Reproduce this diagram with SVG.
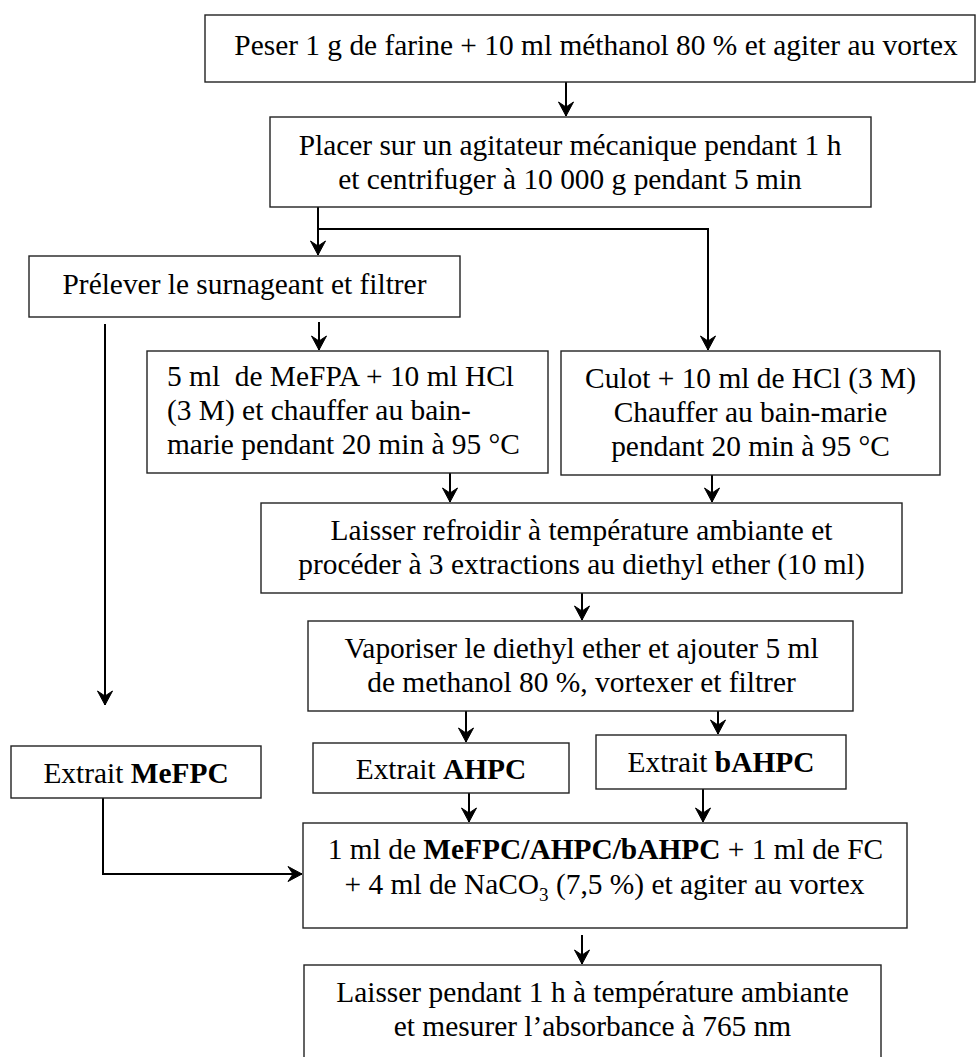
<svg xmlns="http://www.w3.org/2000/svg" width="976" height="1057" viewBox="0 0 976 1057">
<style>
.box{fill:#fff;stroke:#222;stroke-width:1.4}
.t{font-family:"Liberation Serif","Times New Roman",serif;font-size:29.4px;fill:#000}
.c{text-anchor:middle}
.b{font-weight:bold}
.con{fill:none;stroke:#000;stroke-width:2}
</style>
<defs>
<marker id="ah" markerUnits="userSpaceOnUse" viewBox="-16 -10 18 20" markerWidth="18" markerHeight="20" refX="0" refY="0" orient="auto">
<path d="M0,0 L-14,-7.5 L-9,0 L-14,7.5 Z" fill="#000" stroke="#000" stroke-width="1" stroke-linejoin="miter"/>
</marker>
</defs>
<rect width="976" height="1057" fill="#fff"/>
<g id="connectors">
<line class="con" x1="566" y1="82" x2="566" y2="116" marker-end="url(#ah)"/>
<line class="con" x1="318" y1="203" x2="318" y2="255" marker-end="url(#ah)"/>
<polyline class="con" points="318,229 708,229 708,350" marker-end="url(#ah)"/>
<line class="con" x1="319" y1="322" x2="319" y2="350" marker-end="url(#ah)"/>
<line class="con" x1="105" y1="324" x2="105" y2="705" marker-end="url(#ah)"/>
<line class="con" x1="450" y1="473" x2="450" y2="502" marker-end="url(#ah)"/>
<line class="con" x1="712" y1="475" x2="712" y2="502" marker-end="url(#ah)"/>
<line class="con" x1="582" y1="593" x2="582" y2="620" marker-end="url(#ah)"/>
<line class="con" x1="466" y1="711" x2="466" y2="742" marker-end="url(#ah)"/>
<line class="con" x1="718" y1="711" x2="718" y2="734" marker-end="url(#ah)"/>
<line class="con" x1="469" y1="793" x2="469" y2="822" marker-end="url(#ah)"/>
<line class="con" x1="703" y1="789" x2="703" y2="822" marker-end="url(#ah)"/>
<polyline class="con" points="103,798 103,874 302,874" marker-end="url(#ah)"/>
<line class="con" x1="582" y1="935" x2="582" y2="964" marker-end="url(#ah)"/>
</g>
<g id="n1">
<rect class="box" x="205" y="15" width="770" height="67"/>
<text class="t c" x="596" y="55">Peser 1 g de farine + 10 ml méthanol 80 % et agiter au vortex</text>
</g>
<g id="n2">
<rect class="box" x="270" y="117" width="601" height="90"/>
<text class="t c" x="570" y="155">Placer sur un agitateur mécanique pendant 1 h</text>
<text class="t c" x="570" y="189">et centrifuger à 10 000 g pendant 5 min</text>
</g>
<g id="n3">
<rect class="box" x="29" y="256" width="431" height="61"/>
<text class="t c" x="244.5" y="294">Prélever le surnageant et filtrer</text>
</g>
<g id="n4">
<rect class="box" x="147" y="351" width="401" height="122"/>
<text class="t" x="167" y="386" xml:space="preserve">5 ml  de MeFPA + 10 ml HCl</text>
<text class="t" x="167" y="420">(3 M) et chauffer au bain-</text>
<text class="t" x="167" y="454">marie pendant 20 min à 95 °C</text>
</g>
<g id="n5">
<rect class="box" x="561" y="351" width="379" height="124"/>
<text class="t c" x="750.5" y="388">Culot + 10 ml de HCl (3 M)</text>
<text class="t c" x="750.5" y="422">Chauffer au bain-marie</text>
<text class="t c" x="750.5" y="456">pendant 20 min à 95 °C</text>
</g>
<g id="n6">
<rect class="box" x="261" y="503" width="641" height="90"/>
<text class="t c" x="581.5" y="540">Laisser refroidir à température ambiante et</text>
<text class="t c" x="581.5" y="574">procéder à 3 extractions au diethyl ether (10 ml)</text>
</g>
<g id="n7">
<rect class="box" x="308" y="621" width="545" height="90"/>
<text class="t c" x="581.5" y="658">Vaporiser le diethyl ether et ajouter 5 ml</text>
<text class="t c" x="581.5" y="692">de methanol 80 %, vortexer et filtrer</text>
</g>
<g id="n8">
<rect class="box" x="11" y="746" width="250" height="52"/>
<text class="t c" x="136" y="783">Extrait <tspan class="b">MeFPC</tspan></text>
</g>
<g id="n9">
<rect class="box" x="313" y="743" width="256" height="50"/>
<text class="t c" x="441" y="779">Extrait <tspan class="b">AHPC</tspan></text>
</g>
<g id="n10">
<rect class="box" x="596" y="735" width="250" height="54"/>
<text class="t c" x="721" y="772">Extrait <tspan class="b">bAHPC</tspan></text>
</g>
<g id="n11">
<rect class="box" x="303" y="823" width="604" height="105"/>
<text class="t c" x="605.5" y="859">1 ml de <tspan class="b">MeFPC/AHPC/bAHPC</tspan> + 1 ml de FC</text>
<text class="t c" x="604.5" y="894">+ 4 ml de NaCO<tspan font-size="19" dy="7">3</tspan><tspan dy="-7"> (7,5 %) et agiter au vortex</tspan></text>
</g>
<g id="n12">
<rect class="box" x="304" y="965" width="577" height="110"/>
<text class="t c" x="592.5" y="1002">Laisser pendant 1 h à température ambiante</text>
<text class="t c" x="592.5" y="1036">et mesurer l’absorbance à 765 nm</text>
</g>
</svg>
